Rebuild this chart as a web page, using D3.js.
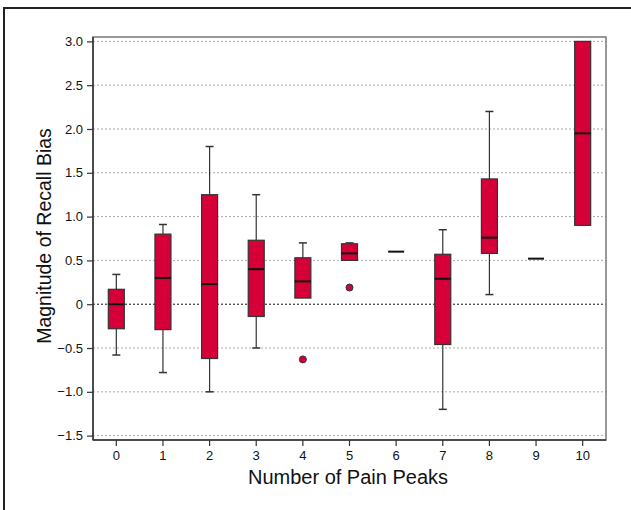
<!DOCTYPE html>
<html>
<head>
<meta charset="utf-8">
<script src="https://cdn.jsdelivr.net/npm/d3@7"></script>
<style>
  body { margin: 0; background: #fff; }
  svg { display: block; font-family: "Liberation Sans", Arial, sans-serif; }
</style>
</head>
<body>
<div id="chart"></div>
<script>
// data
const peaks = ["0", "1", "2", "3", "4", "5", "6", "7", "8", "9", "10"];
const whiskerLow  = [-0.58, -0.78, -1.0, -0.5, 0.07, 0.5, 0.6, -1.2, 0.11, 0.52, 0.9];
const q1          = [-0.28, -0.29, -0.62, -0.14, 0.07, 0.5, 0.6, -0.46, 0.58, 0.52, 0.9];
const medians     = [0.0, 0.3, 0.23, 0.4, 0.26, 0.58, 0.6, 0.29, 0.76, 0.52, 1.95];
const q3          = [0.17, 0.8, 1.25, 0.73, 0.53, 0.69, 0.6, 0.57, 1.43, 0.52, 3.0];
const whiskerHigh = [0.34, 0.91, 1.8, 1.25, 0.7, 0.7, 0.6, 0.85, 2.2, 0.52, 3.0];
const outliers    = [[], [], [], [], [-0.63], [0.19], [], [], [], [], []];
const yTicks = [-1.5, -1.0, -0.5, 0, 0.5, 1.0, 1.5, 2.0, 2.5, 3.0];

const width = 631, height = 510;
const margin = { left: 93, right: 25, top: 37, bottom: 70 };

const svg = d3.select("#chart").append("svg")
  .attr("width", width)
  .attr("height", height);

// outer frame (runs off the right / bottom of the picture)
svg.append("rect")
  .attr("x", 4).attr("y", 8)
  .attr("width", 700).attr("height", 600)
  .attr("fill", "none")
  .attr("stroke", "#222")
  .attr("stroke-width", 2);

const x = d3.scaleBand()
  .domain(peaks)
  .range([margin.left, width - margin.right]);

const y = d3.scaleLinear()
  .domain([-1.55, 3.05])
  .range([height - margin.bottom, margin.top]);

const boxW = 16;

// grid
svg.append("g")
  .selectAll("line")
  .data(yTicks)
  .enter()
  .append("line")
  .attr("x1", margin.left)
  .attr("x2", width - margin.right)
  .attr("y1", d => y(d))
  .attr("y2", d => y(d))
  .attr("stroke", d => d === 0 ? "#111" : "#aaa")
  .attr("stroke-width", 1)
  .attr("stroke-dasharray", "2,2");

// plot border: top and right light, left and bottom are the axes
svg.append("rect")
  .attr("x", margin.left)
  .attr("y", margin.top)
  .attr("width", width - margin.right - margin.left)
  .attr("height", height - margin.bottom - margin.top)
  .attr("fill", "none")
  .attr("stroke", "#777")
  .attr("stroke-width", 1.5);

const yAxis = svg.append("g")
  .attr("transform", `translate(${margin.left},0)`)
  .call(d3.axisLeft(y).tickValues(yTicks).tickSize(6).tickPadding(4)
    .tickFormat(d => d === 0 ? "0" : d3.format(".1f")(d)));
yAxis.select(".domain").attr("stroke", "#333").attr("stroke-width", 1.5)
  .attr("d", `M0,${margin.top}V${height - margin.bottom}`);
yAxis.selectAll(".tick line").attr("stroke", "#333").attr("stroke-width", 1.2);
yAxis.selectAll("text").attr("font-size", 13).attr("fill", "#111")
  .attr("font-family", "'Liberation Sans', Arial, sans-serif");

const xAxis = svg.append("g")
  .attr("transform", `translate(0,${height - margin.bottom})`)
  .call(d3.axisBottom(x).tickSize(6).tickPadding(5));
xAxis.select(".domain").attr("stroke", "#333").attr("stroke-width", 1.5)
  .attr("d", `M${margin.left},0H${width - margin.right}`);
xAxis.selectAll(".tick line").attr("stroke", "#333").attr("stroke-width", 1.2);
xAxis.selectAll("text").attr("font-size", 13).attr("fill", "#111")
  .attr("font-family", "'Liberation Sans', Arial, sans-serif");

// boxes
const boxes = svg.append("g")
  .selectAll("g")
  .data(peaks)
  .enter()
  .append("g")
  .attr("transform", d => `translate(${x(d) + x.bandwidth() / 2},0)`);

boxes.each(function(d, i) {
  const g = d3.select(this);

  if (whiskerHigh[i] > q3[i]) {
    g.append("line")
      .attr("y1", y(q3[i])).attr("y2", y(whiskerHigh[i]))
      .attr("stroke", "#333").attr("stroke-width", 1.2);
    g.append("line")
      .attr("x1", -4).attr("x2", 4)
      .attr("y1", y(whiskerHigh[i])).attr("y2", y(whiskerHigh[i]))
      .attr("stroke", "#333").attr("stroke-width", 1.5);
  }
  if (whiskerLow[i] < q1[i]) {
    g.append("line")
      .attr("y1", y(q1[i])).attr("y2", y(whiskerLow[i]))
      .attr("stroke", "#333").attr("stroke-width", 1.2);
    g.append("line")
      .attr("x1", -4).attr("x2", 4)
      .attr("y1", y(whiskerLow[i])).attr("y2", y(whiskerLow[i]))
      .attr("stroke", "#333").attr("stroke-width", 1.5);
  }

  if (q3[i] > q1[i]) {
    g.append("rect")
      .attr("x", -boxW / 2)
      .attr("width", boxW)
      .attr("y", y(q3[i]))
      .attr("height", y(q1[i]) - y(q3[i]))
      .attr("fill", "#d50037")
      .attr("stroke", "#333")
      .attr("stroke-width", 1.2);
  }

  g.append("line")
    .attr("x1", -boxW / 2).attr("x2", boxW / 2)
    .attr("y1", y(medians[i])).attr("y2", y(medians[i]))
    .attr("stroke", "#111")
    .attr("stroke-width", 2);

  outliers[i].forEach(v => {
    g.append("circle")
      .attr("cy", y(v))
      .attr("r", 3.5)
      .attr("fill", "#d50037")
      .attr("stroke", "#333")
      .attr("stroke-width", 1);
  });
});

// axis titles
svg.append("text")
  .attr("x", 348)
  .attr("y", 484)
  .attr("text-anchor", "middle")
  .attr("font-size", 20)
  .attr("fill", "#111")
  .text("Number of Pain Peaks");

svg.append("text")
  .attr("transform", `translate(51,236) rotate(-90)`)
  .attr("text-anchor", "middle")
  .attr("font-size", 19.5)
  .attr("fill", "#111")
  .text("Magnitude of Recall Bias");
</script>
</body>
</html>
